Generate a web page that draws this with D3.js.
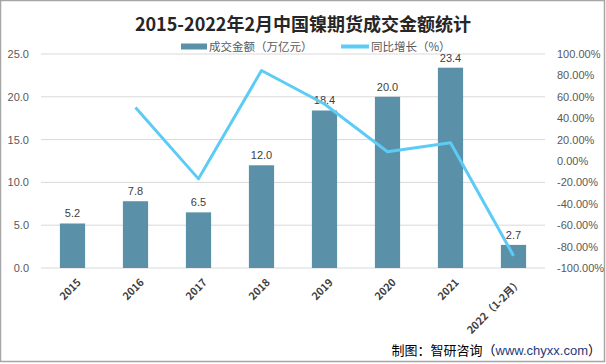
<!DOCTYPE html>
<html lang="zh">
<head>
<meta charset="UTF-8">
<title>2015-2022年2月中国镍期货成交金额统计</title>
<script src="https://d3js.org/d3.v7.min.js"></script>
<style>
    body { margin: 0; background: #fff; font-family: "Noto Sans CJK SC", "DejaVu Sans", sans-serif; }
    svg { display: block; }
</style>
</head>
<body>
<svg width="606" height="364"></svg>
<script>
    // 数据
    const years = ["2015", "2016", "2017", "2018", "2019", "2020", "2021", "2022（1-2月）"];
    const amount = [5.2, 7.8, 6.5, 12.0, 18.4, 20.0, 23.4, 2.7];
    const growth = [null, 50.0, -16.7, 84.6, 53.3, 8.7, 17.0, -88.5];
    const leftTicks = [0, 5, 10, 15, 20, 25];
    const rightTicks = [-100, -80, -60, -40, -20, 0, 20, 40, 60, 80, 100];

    const svg = d3.select("svg");
    const margin = {top: 54, left: 41, right: 61, bottom: 96};
    const width = 606 - margin.left - margin.right,
          height = 364 - margin.top - margin.bottom;

    // 边框
    svg.append("rect")
        .attr("x", 0.5).attr("y", 0.5).attr("width", 604).attr("height", 361)
        .attr("fill", "none").attr("stroke", "#a6a6a6").attr("stroke-width", 1.5);

    // 标题
    svg.append("text")
        .attr("x", 303).attr("y", 31)
        .attr("text-anchor", "middle")
        .attr("font-size", 18).attr("font-weight", "bold").attr("fill", "#262626")
        .text("2015-2022年2月中国镍期货成交金额统计");

    // 图例
    const legend = svg.append("g").attr("font-size", 11.5);
    legend.append("rect").attr("x", 181).attr("y", 43.5).attr("width", 26).attr("height", 6).attr("fill", "#5b91a8");
    legend.append("text").attr("x", 209).attr("y", 51).attr("fill", "#595959").text("成交金额（万亿元）");
    legend.append("rect").attr("x", 341).attr("y", 44.5).attr("width", 28).attr("height", 4).attr("fill", "#5ccbf5");
    legend.append("text").attr("x", 371).attr("y", 51).attr("fill", "#595959").text("同比增长（%）");

    const g = svg.append("g").attr("transform", `translate(${margin.left},${margin.top})`);

    const x = d3.scaleBand().domain(years).range([0, width]).paddingInner(0.6).paddingOuter(0.3);
    const y = d3.scaleLinear().domain([0, 25]).range([height, 0]);
    const y2 = d3.scaleLinear().domain([-100, 100]).range([height, 0]);

    // 网格线
    g.selectAll(".grid")
        .data(leftTicks)
        .enter().append("line")
        .attr("x1", 0).attr("x2", width)
        .attr("y1", d => y(d)).attr("y2", d => y(d))
        .attr("stroke", "#d9d9d9").attr("stroke-width", 1);

    // 左轴
    const yAxis = g.append("g")
        .call(d3.axisLeft(y).tickValues(leftTicks).tickFormat(d3.format(".1f")).tickSize(0).tickPadding(12));
    yAxis.select(".domain").remove();
    yAxis.selectAll("text").attr("font-size", 11).attr("fill", "#595959").attr("font-family", "Liberation Sans, sans-serif");

    // 右轴
    const y2Axis = g.append("g")
        .attr("transform", `translate(${width},0)`)
        .call(d3.axisRight(y2).tickValues(rightTicks).tickFormat(d => d.toFixed(2) + "%").tickSize(0).tickPadding(12));
    y2Axis.select(".domain").remove();
    y2Axis.selectAll("text").attr("font-size", 11).attr("fill", "#595959").attr("font-family", "Liberation Sans, sans-serif");

    // 柱子
    g.selectAll(".bar")
        .data(years)
        .enter().append("rect")
        .attr("class", "bar")
        .attr("x", d => x(d))
        .attr("y", (d, i) => y(amount[i]))
        .attr("width", x.bandwidth())
        .attr("height", (d, i) => height - y(amount[i]))
        .attr("fill", "#5b91a8");

    // 数值标签
    g.selectAll(".bar-label")
        .data(years)
        .enter().append("text")
        .attr("x", d => x(d) + x.bandwidth() / 2)
        .attr("y", (d, i) => y(amount[i]) - 6)
        .attr("text-anchor", "middle")
        .attr("font-size", 11).attr("fill", "#404040")
        .attr("font-family", "Liberation Sans, sans-serif")
        .text((d, i) => amount[i].toFixed(1));

    // 折线
    const pts = years.map((d, i) => ({k: d, v: growth[i]})).filter(d => d.v !== null);
    g.append("path")
        .datum(pts)
        .attr("fill", "none")
        .attr("stroke", "#5ccbf5")
        .attr("stroke-width", 3)
        .attr("stroke-linejoin", "round")
        .attr("d", d3.line().x(d => x(d.k) + x.bandwidth() / 2).y(d => y2(d.v)));

    // X 轴标签
    g.selectAll(".x-label")
        .data(years)
        .enter().append("text")
        .attr("transform", d => `translate(${x(d) + x.bandwidth() / 2 + 4},${height + 10}) rotate(-45)`)
        .attr("text-anchor", "end")
        .attr("dy", "0.7em")
        .attr("font-size", 10.5).attr("font-weight", "bold").attr("fill", "#404040")
        .text(d => d);

    // 来源
    const src = svg.append("text")
        .attr("x", 601).attr("y", 355)
        .attr("text-anchor", "end")
        .attr("font-size", 13).attr("fill", "#000");
    src.append("tspan").text("制图：智研咨询（");
    src.append("tspan").attr("fill", "#1f3a7a").attr("font-family", "Liberation Sans, sans-serif").text("www.chyxx.com");
    src.append("tspan").text("）");
</script>
</body>
</html>
